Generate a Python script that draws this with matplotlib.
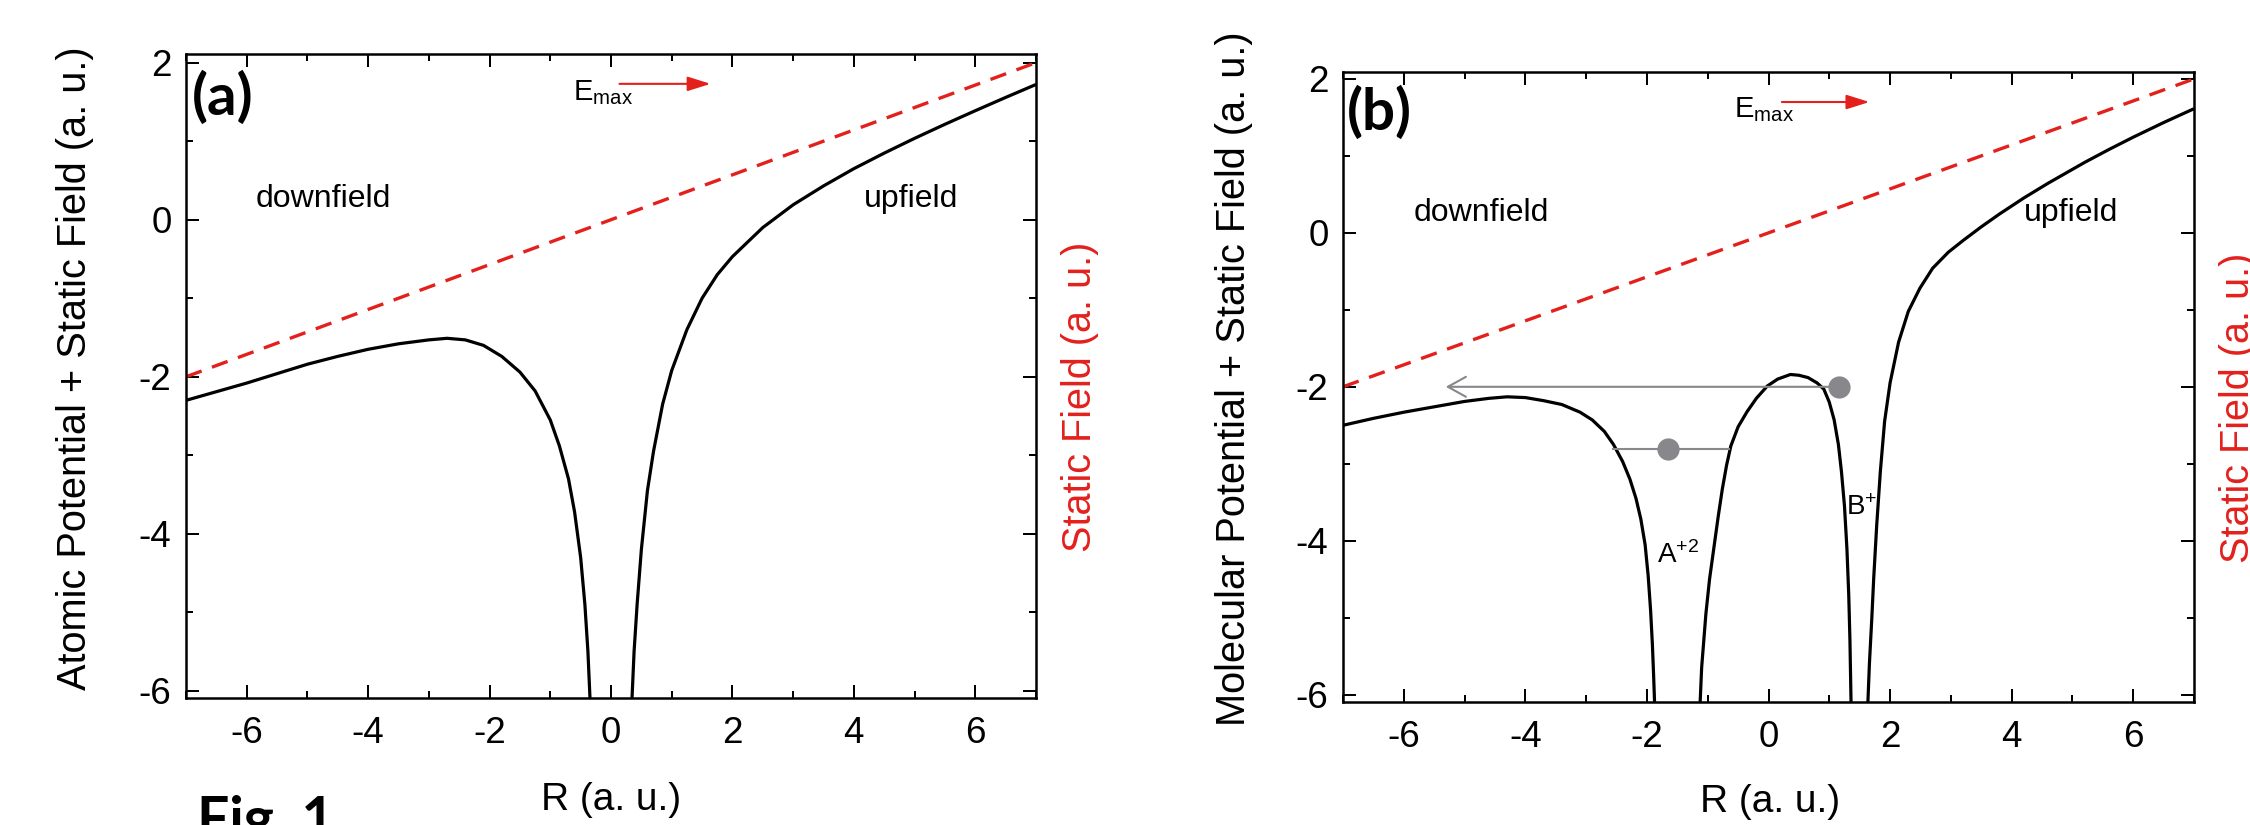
import matplotlib
matplotlib.use("Agg")
import matplotlib.pyplot as plt
from matplotlib.ticker import MultipleLocator, FixedLocator

plt.rcParams['font.family'] = ['Liberation Sans', 'DejaVu Sans']
plt.rcParams['axes.unicode_minus'] = False
plt.rcParams['mathtext.default'] = 'regular'

# ---------------- data ----------------
x_ticks = [-6, -4, -2, 0, 2, 4, 6]
y_ticks = [-6, -4, -2, 0, 2]

# static field (red dashed), both panels
field_x = [-7, 7]
field_y = [-2.0, 2.0]

# panel (a): atomic potential + static field
atom_left_x = [-7, -6.5, -6, -5.5, -5, -4.5, -4, -3.5, -3, -2.7, -2.4, -2.1, -1.8,
               -1.5, -1.25, -1.0, -0.85, -0.7, -0.6, -0.5, -0.43, -0.38, -0.34]
atom_left_y = [-2.30, -2.19, -2.08, -1.96, -1.84, -1.74, -1.65, -1.58, -1.53, -1.51,
               -1.53, -1.60, -1.74, -1.94, -2.18, -2.55, -2.88, -3.30, -3.72, -4.30,
               -4.90, -5.50, -6.20]
atom_right_x = [0.34, 0.38, 0.43, 0.5, 0.6, 0.7, 0.85, 1.0, 1.25, 1.5, 1.75, 2.0, 2.5,
                3.0, 3.5, 4.0, 4.5, 5.0, 5.5, 6.0, 6.5, 7.0]
atom_right_y = [-6.20, -5.50, -4.90, -4.20, -3.45, -2.95, -2.35, -1.92, -1.40, -1.00,
                -0.70, -0.47, -0.10, 0.19, 0.43, 0.65, 0.848, 1.036, 1.215, 1.388,
                1.557, 1.722]

# panel (b): molecular potential + static field (three branches)
mol_1_x = [-7.0, -6.5, -6.0, -5.5, -5.0, -4.6, -4.3, -4.0, -3.7, -3.4, -3.1, -2.9, -2.7,
           -2.55, -2.4, -2.28, -2.18, -2.10, -2.03, -1.98, -1.94, -1.91, -1.89, -1.87]
mol_1_y = [-2.50, -2.41, -2.33, -2.26, -2.19, -2.15, -2.13, -2.14, -2.18, -2.23, -2.33,
           -2.43, -2.58, -2.75, -2.97, -3.20, -3.45, -3.72, -4.05, -4.45, -4.90, -5.35,
           -5.75, -6.20]
mol_2_x = [-1.13, -1.10, -1.06, -1.03, -0.97, -0.90, -0.83, -0.76, -0.69, -0.62, -0.50,
           -0.35, -0.20, -0.02, 0.15, 0.36, 0.50, 0.65, 0.80, 0.91, 1.00, 1.08, 1.15,
           1.20, 1.25, 1.29, 1.32, 1.34, 1.36]
mol_2_y = [-6.20, -5.65, -5.25, -4.95, -4.50, -4.10, -3.70, -3.33, -3.02, -2.77, -2.52,
           -2.32, -2.15, -1.99, -1.90, -1.84, -1.85, -1.88, -1.95, -2.03, -2.20, -2.43,
           -2.75, -3.10, -3.55, -4.10, -4.70, -5.30, -6.20]
mol_3_x = [1.63, 1.66, 1.70, 1.73, 1.78, 1.84, 1.91, 2.00, 2.14, 2.30, 2.49, 2.70, 2.96,
           3.20, 3.50, 3.80, 4.20, 4.60, 5.20, 5.60, 6.00, 6.50, 7.00]
mol_3_y = [-6.20, -5.60, -5.00, -4.50, -3.80, -3.10, -2.45, -1.95, -1.42, -1.02, -0.72,
           -0.46, -0.25, -0.10, 0.078, 0.245, 0.453, 0.645, 0.915, 1.083, 1.243, 1.433,
           1.613]

# electron levels in panel (b)
level_low_x = [-2.55, -0.65]
level_low_y = [-2.81, -2.81]
dot_x = [-1.65, 1.16]
dot_y = [-2.81, -2.0]
tunnel_start = (1.16, -2.0)
tunnel_end = (-5.31, -2.0)

# ---------------- style ----------------
RED = '#e3201c'
GRAY = '#87878c'
W, H = 2250, 825

fig = plt.figure(figsize=(22.5, 8.25), dpi=100)
axA = fig.add_axes([186 / W, 1 - 698 / H, (1036 - 186) / W, (698 - 54) / H])
axB = fig.add_axes([1343 / W, 1 - 702 / H, (2194 - 1343) / W, (702 - 72) / H])


def style_axes(ax, ylim):
    ax.set_xlim(-7, 7)
    ax.set_ylim(*ylim)
    ax.xaxis.set_major_locator(FixedLocator(x_ticks))
    ax.yaxis.set_major_locator(FixedLocator(y_ticks))
    ax.xaxis.set_minor_locator(MultipleLocator(1))
    ax.yaxis.set_minor_locator(MultipleLocator(1))
    ax.set_xticklabels([str(v) for v in x_ticks])
    ax.set_yticklabels([str(v) for v in y_ticks])
    ax.tick_params(which='both', direction='in', top=True, right=True,
                   width=1.44, colors='black')
    ax.tick_params(which='major', length=9.4, labelsize=26.5)
    ax.tick_params(which='minor', length=5)
    ax.tick_params(axis='x', which='major', pad=13)
    ax.tick_params(axis='y', which='major', pad=10.5)
    for s in ax.spines.values():
        s.set_linewidth(1.8)


style_axes(axA, (-6.09, 2.11))
style_axes(axB, (-6.095, 2.09))

dash = dict(color=RED, lw=2.4, dashes=(5.0, 3.3))
curve = dict(color='black', lw=2.3, solid_capstyle='butt', solid_joinstyle='round')

# panel (a)
axA.plot(field_x, field_y, **dash)
axA.plot(atom_left_x, atom_left_y, **curve)
axA.plot(atom_right_x, atom_right_y, **curve)

# panel (b)
axB.plot(field_x, field_y, **dash)
axB.plot(mol_1_x, mol_1_y, **curve)
axB.plot(mol_2_x, mol_2_y, **curve)
axB.plot(mol_3_x, mol_3_y, **curve)
axB.plot(level_low_x, level_low_y, color=GRAY, lw=1.5)
axB.annotate('', xy=tunnel_end, xytext=tunnel_start,
             arrowprops=dict(arrowstyle='->,head_length=0.65,head_width=0.36',
                             color=GRAY, lw=1.5, shrinkA=0, shrinkB=0,
                             mutation_scale=20))
axB.plot(dot_x, dot_y, 'o', color=GRAY, ms=16, mec='none', zorder=5)

# text annotations
for ax, lbl, lx, ly, ex, ey, a0, a1, ay in [
        (axA, '(a)', -6.9, 1.33, -0.62, 1.52, 0.14, 1.64, 1.73),
        (axB, '(b)', -6.94, 1.34, -0.57, 1.50, 0.22, 1.66, 1.70)]:
    ax.text(lx, ly, lbl, fontsize=42, fontweight='bold', family=['Lato', 'DejaVu Sans'],
            ha='left', va='baseline')
    ax.text(ex, ey, r'E$_{max}$', fontsize=21, ha='left', va='baseline')
    ax.annotate('', xy=(a1, ay), xytext=(a0, ay),
                arrowprops=dict(arrowstyle='-|>,head_length=0.7,head_width=0.22',
                                color=RED, lw=1.5, shrinkA=0, shrinkB=0,
                                mutation_scale=20))

axA.text(-5.85, 0.16, 'downfield', fontsize=23, ha='left', va='baseline')
axA.text(4.17, 0.16, 'upfield', fontsize=23, ha='left', va='baseline')
axB.text(-5.83, 0.15, 'downfield', fontsize=23, ha='left', va='baseline')
axB.text(4.2, 0.15, 'upfield', fontsize=23, ha='left', va='baseline')
axB.text(-1.84, -4.29, r'A$^{+2}$', fontsize=20, ha='left', va='baseline')
axB.text(1.27, -3.67, r'B$^{+}$', fontsize=20, ha='left', va='baseline')

# axis labels
fig.text(75 / W, 1 - 368 / H, 'Atomic Potential + Static Field (a. u.)',
         rotation=90, fontsize=28.6, ha='center', va='center')
fig.text(1234 / W, 1 - 379 / H, 'Molecular Potential + Static Field (a. u.)',
         rotation=90, fontsize=28.6, ha='center', va='center')
fig.text(1080 / W, 1 - 397 / H, 'Static Field (a. u.)', rotation=90,
         fontsize=28.5, color=RED, ha='center', va='center')
fig.text(2238 / W, 1 - 408 / H, 'Static Field (a. u.)', rotation=90,
         fontsize=28.5, color=RED, ha='center', va='center')
fig.text(611 / W, 1 - 800 / H, 'R (a. u.)', fontsize=28, ha='center', va='center')
fig.text(1770 / W, 1 - 802 / H, 'R (a. u.)', fontsize=28, ha='center', va='center')
fig.text(197 / W, (H - 838) / H, 'Fig. 1', fontsize=41, fontweight='bold',
         family=['Lato', 'DejaVu Sans'], ha='left', va='baseline')

fig.savefig('out.png', dpi=100)
